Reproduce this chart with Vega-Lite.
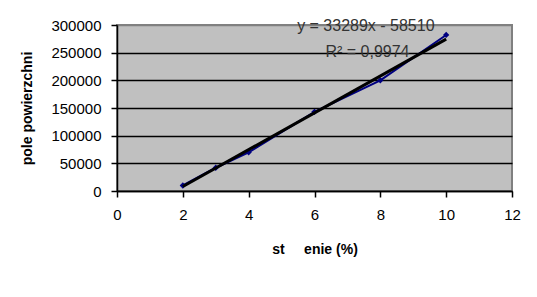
{
  "$schema": "https://vega.github.io/schema/vega-lite/v6.json",
  "width": 395,
  "height": 166,
  "autosize": "none",
  "padding": {"left": 117, "top": 25, "right": 25, "bottom": 106},
  "background": "white",
  "config": {
    "font": "Liberation Sans",
    "view": {"fill": "#C0C0C0", "stroke": "#808080", "strokeWidth": 2},
    "axis": {
      "labelFont": "Liberation Sans",
      "titleFont": "Liberation Sans",
      "labelFontSize": 15,
      "titleFontSize": 14,
      "labelColor": "black",
      "titleColor": "black",
      "domainColor": "black",
      "domainWidth": 1.5,
      "tickColor": "black",
      "tickWidth": 1.5,
      "tickSize": 6,
      "labelOverlap": false,
      "labelFlush": false
    }
  },
  "datasets": {
    "pts": [
      {"x": 2, "y": 10000},
      {"x": 3, "y": 42000},
      {"x": 4, "y": 70000},
      {"x": 6, "y": 143000},
      {"x": 8, "y": 200000},
      {"x": 10, "y": 282000}
    ],
    "trend": [
      {"x": 2, "y": 8068},
      {"x": 10, "y": 274380}
    ],
    "labels": [
      {"x": 7.56, "y": 298200, "t": "y = 33289x - 58510"},
      {"x": 7.61, "y": 251200, "t": "R² = 0,9974"}
    ]
  },
  "layer": [
    {
      "data": {"name": "pts"},
      "mark": {"type": "line", "color": "#000080", "strokeWidth": 2, "point": {"shape": "diamond", "filled": true, "color": "#000080", "size": 40}},
      "encoding": {
        "x": {
          "field": "x", "type": "quantitative",
          "scale": {"domain": [0, 12], "nice": false},
          "axis": {"values": [0, 2, 4, 6, 8, 10, 12], "tickCount": 12, "grid": false, "labelPadding": 10, "title": "st\u00a0\u00a0\u00a0\u00a0\u00a0enie (%)", "titleFontWeight": "bold", "titlePadding": 20}
        },
        "y": {
          "field": "y", "type": "quantitative",
          "scale": {"domain": [0, 300000], "nice": false},
          "axis": {
            "values": [0, 50000, 100000, 150000, 200000, 250000, 300000],
            "tickCount": 12,
            "format": "d",
            "grid": true,
            "gridColor": {"condition": {"test": "datum.value == 300000", "value": "#808080"}, "value": "black"},
            "gridWidth": 1.5,
            "gridOpacity": 1,
            "labelPadding": 10,
            "title": "pole powierzchni",
            "titleFontWeight": "bold",
            "titlePadding": 16
          }
        }
      }
    },
    {
      "data": {"name": "trend"},
      "mark": {"type": "line", "color": "black", "strokeWidth": 3},
      "encoding": {
        "x": {"field": "x", "type": "quantitative"},
        "y": {"field": "y", "type": "quantitative"}
      }
    },
    {
      "data": {"name": "labels"},
      "mark": {"type": "text", "fontSize": 16, "color": "#333333", "align": "center", "baseline": "middle"},
      "encoding": {
        "x": {"field": "x", "type": "quantitative"},
        "y": {"field": "y", "type": "quantitative"},
        "text": {"field": "t"}
      }
    }
  ]
}
